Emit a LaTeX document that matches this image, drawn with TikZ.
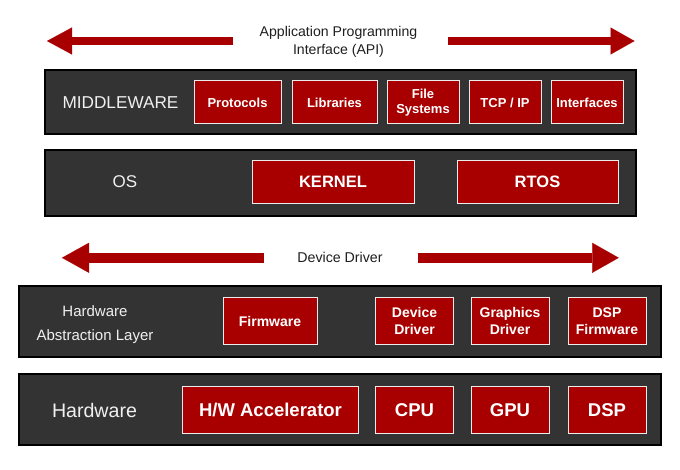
\documentclass[tikz,border=0pt]{standalone}
\usepackage{fontspec}
\setmainfont{Liberation Sans}
\usetikzlibrary{arrows.meta,positioning}
\definecolor{hwred}{RGB}{168,0,0}
\definecolor{panelgray}{RGB}{51,51,51}
\definecolor{boxline}{RGB}{236,236,236}
\definecolor{inkgray}{RGB}{30,30,30}
\begin{document}
\begin{tikzpicture}[x=1pt, y=-1pt,
    panel/.style={draw=black,fill=panelgray,line width=1.6pt,inner sep=0pt},
    redbox/.style={draw=boxline,fill=hwred,line width=1pt,text=white,font=\bfseries,align=center,inner sep=0pt},
    paneltext/.style={text=white!94!black,align=center,inner sep=0pt},
    toptext/.style={text=inkgray,align=center,inner sep=0pt},
    fatarrow/.style={draw=hwred,line width=#1}]
  \useasboundingbox (0,0) rectangle (680,470);
  % layer panels
  \node[panel,minimum width=591pt,minimum height=64pt] (mw) at (340.5,102) {};
  \node[panel,minimum width=591pt,minimum height=66pt] (os) at (340.5,183) {};
  \node[panel,minimum width=642pt,minimum height=71pt] (hal) at (340,321.5) {};
  \node[panel,minimum width=642pt,minimum height=71pt] (hw) at (340,409.5) {};
  % panel titles
  \node[paneltext,font=\fontsize{17.2}{20}\selectfont] (mwtitle) at (120.5,102.5) {MIDDLEWARE};
  \node[paneltext,font=\fontsize{17}{20}\selectfont] (ostitle) at (125,182) {OS};
  \node[paneltext,font=\fontsize{15}{24.4}\selectfont] (haltitle) at (95,324.5) {Hardware\\Abstraction Layer};
  \node[paneltext,font=\fontsize{19.6}{22}\selectfont] (hwtitle) at (94.5,410) {Hardware};
  % middleware row
  \foreach \nm/\cx/\w/\txt in {prot/237.5/87/Protocols, libs/334.5/85/Libraries, fsys/423/72/{File\\Systems},
      tcpip/505/72/{TCP / IP}, intf/587/72/Interfaces}
    \node[redbox,minimum width=\w pt,minimum height=43pt,font=\bfseries\fontsize{13}{14.7}\selectfont] (\nm) at (\cx,102.5) {\txt};
  % os row
  \node[redbox,minimum width=162pt,minimum height=43pt,font=\bfseries\fontsize{16.5}{20}\selectfont] (kernel) at (333,182) {KERNEL};
  \node[redbox,minimum width=161pt,minimum height=43pt,font=\bfseries\fontsize{16.5}{20}\selectfont] (rtos) at (537.5,182) {RTOS};
  % hal row
  \foreach \nm/\cx/\w/\txt in {firm/270/94/Firmware, devdrv/414.5/78/{Device\\Driver},
      gfxdrv/510/78/{Graphics\\Driver}, dspfirm/607/78/{DSP\\Firmware}}
    \node[redbox,minimum width=\w pt,minimum height=46.6pt,font=\bfseries\fontsize{14}{16.7}\selectfont] (\nm) at (\cx,321) {\txt};
  % hardware row
  \foreach \nm/\cx/\w/\txt in {accel/270.5/175.5/{H/W Accelerator}, cpu/414.5/78/CPU,
      gpu/510/78/GPU, dsp/607/78/DSP}
    \node[redbox,minimum width=\w pt,minimum height=46.6pt,font=\bfseries\fontsize{18.5}{22}\selectfont] (\nm) at (\cx,410) {\txt};
  % interface labels and arrows
  \node[toptext,font=\fontsize{14.1}{17.7}\selectfont] (api) at (338.5,42) {Application Programming\\Interface (API)};
  \node[toptext,font=\fontsize{14.2}{17}\selectfont] (drv) at (340,257.5) {Device Driver};
  \coordinate (apiL) at (233,41);  \coordinate (apiLtip) at (47,41);
  \coordinate (apiR) at (448,41);  \coordinate (apiRtip) at (634.5,41);
  \coordinate (drvL) at (263.5,257.8); \coordinate (drvLtip) at (62,257.8);
  \coordinate (drvR) at (417.5,257.8); \coordinate (drvRtip) at (618.7,257.8);
  \draw[fatarrow=8.6pt,-{Triangle[length=25pt,width=27pt,line width=0.1pt]}] (apiL) -- (apiLtip);
  \draw[fatarrow=8.6pt,-{Triangle[length=24pt,width=27pt,line width=0.1pt]}] (apiR) -- (apiRtip);
  \draw[fatarrow=10.3pt,-{Triangle[length=27pt,width=30pt,line width=0.1pt]}] (drvL) -- (drvLtip);
  \draw[fatarrow=10.3pt,-{Triangle[length=26.5pt,width=30pt,line width=0.1pt]}] (drvR) -- (drvRtip);
\end{tikzpicture}
\end{document}
